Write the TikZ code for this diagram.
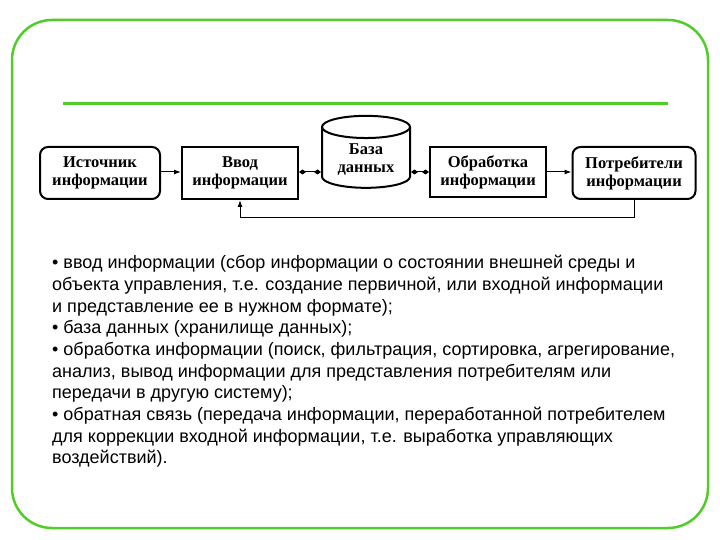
\documentclass[tikz,border=0pt]{standalone}
\usepackage{fontspec}
\setmainfont{Liberation Sans}
\newfontfamily\serifb{Liberation Serif}
\usetikzlibrary{shapes.geometric,arrows.meta}
\definecolor{frame}{RGB}{80,205,40}
\tikzset{
 dfont/.style={font=\serifb\bfseries\fontsize{16.5}{18}\selectfont},
 box/.style={draw,line width=2pt,minimum width=#1,minimum height=52pt,align=center,dfont},
 rbox/.style={box=#1,rounded corners=8pt},
 arr/.style={line width=1pt,-{Latex[length=7pt,width=5pt]}},
 darr/.style={line width=1pt,{Diamond[length=7pt,width=5pt]}-{Diamond[length=7pt,width=5pt]}},
 txt/.style={anchor=base west,inner sep=0pt,font=\fontsize{18}{20}\selectfont}
}
\begin{document}
\begin{tikzpicture}[x=1pt,y=-1pt]
\useasboundingbox (0,0) rectangle (720,540);
\draw[frame,line width=2.5pt,rounded corners=40pt] (12,20) rectangle (708,528);
\draw[frame,line width=3pt] (63,104) -- (668,104);
\node[rbox=120pt] (ist) at (100,173) {Источник\\информации};
\node[box=116pt] (vvod) at (240,173) {Ввод\\информации};
\node[draw,line width=2pt,cylinder,shape border rotate=90,aspect=0.35,minimum width=88pt,minimum height=72pt,align=center,dfont] (db) at (366,160) {База\\данных};
\node[box=116pt,minimum height=50pt] (obr) at (488,172) {Обработка\\информации};
\node[rbox=123pt] (potr) at (634,173) {Потребители\\информации};
\draw[arr] (ist.east|-0,172) -- (vvod.west|-0,172);
\draw[darr] (vvod.east|-0,172) -- (db.west|-0,172);
\draw[darr] (db.east|-0,172) -- (obr.west|-0,172);
\draw[arr] (obr.east|-0,172) -- (potr.west|-0,172);
\coordinate (c1) at (634,218); \coordinate (c2) at (240,218);
\draw[arr] (potr.south) -- (c1) -- (c2) -- (vvod.south);
\node[txt] (t1) at (52,268) {• ввод информации (сбор информации о состоянии внешней среды и};
\node[txt] (t2) at (52,290) {объекта управления, т.е. создание первичной, или входной информации};
\node[txt] (t3) at (52,312) {и представление ее в нужном формате);};
\node[txt] (t4) at (52,333) {• база данных (хранилище данных);};
\node[txt] (t5) at (52,355) {• обработка информации (поиск, фильтрация, сортировка, агрегирование,};
\node[txt] (t6) at (52,377) {анализ, вывод информации для представления потребителям или};
\node[txt] (t7) at (52,398) {передачи в другую систему);};
\node[txt] (t8) at (52,420) {• обратная связь (передача информации, переработанной потребителем};
\node[txt] (t9) at (52,442) {для коррекции входной информации, т.е. выработка управляющих};
\node[txt] (t10) at (52,463) {воздействий).};
\end{tikzpicture}
\end{document}
